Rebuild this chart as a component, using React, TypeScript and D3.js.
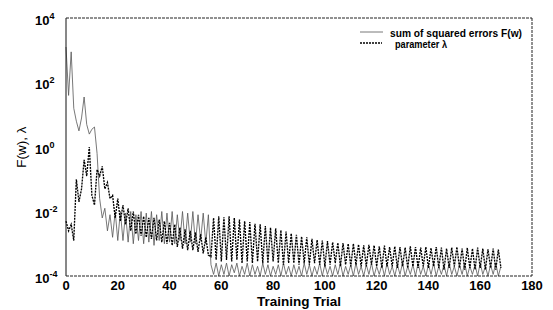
import React from "react";
import * as d3 from "d3";

// Values are read as log10 of the plotted quantity, trial 0..168
const errorLog10 = [
  3.1, 1.6, 2.95, 1.2, 0.8, 0.5, 0.9, 1.55, 0.7, 0.4,
  0.55, 0.62, -0.2, -1.6, -2.2, -1.9, -2.6, -2.1, -2.8, -2.0,
  -2.9, -2.0, -2.9, -2.05, -2.95, -2.0, -3.0, -2.1, -2.9, -2.0,
  -3.0, -2.05, -2.95, -2.0, -3.05, -2.1, -2.9, -2.0, -3.0, -2.05,
  -2.95, -2.0, -3.0, -2.1, -2.9, -2.0, -3.0, -2.05, -2.95, -2.0,
  -3.0, -2.1, -2.9, -2.05, -3.0, -2.1, -3.65, -3.95, -3.6, -4.0,
  -3.65, -3.95, -3.6, -4.0, -3.65, -3.9, -3.6, -4.0, -3.7, -3.95,
  -3.6, -4.0, -3.65, -3.95, -3.7, -4.0, -3.6, -3.95, -3.65, -4.0,
  -3.7, -3.95, -3.65, -4.0, -3.6, -3.95, -3.7, -4.0, -3.65, -3.95,
  -3.7, -4.0, -3.6, -3.95, -3.65, -4.0, -3.7, -3.95, -3.6, -4.0,
  -3.65, -3.95, -3.7, -4.0, -3.65, -3.95, -3.6, -4.0, -3.7, -3.95,
  -3.65, -4.0, -3.6, -3.95, -3.7, -4.0, -3.65, -3.95, -3.6, -4.0,
  -3.7, -3.95, -3.65, -4.0, -3.6, -3.95, -3.7, -4.0, -3.65, -3.95,
  -3.6, -4.0, -3.7, -3.95, -3.65, -4.0, -3.6, -3.95, -3.7, -4.0,
  -3.65, -3.95, -3.6, -4.0, -3.7, -3.95, -3.65, -4.0, -3.6, -3.95,
  -3.7, -4.0, -3.65, -3.95, -3.6, -4.0, -3.7, -3.95, -3.65, -4.0,
  -3.6, -3.95, -3.7, -4.0, -3.65, -3.95, -3.6, -4.0, -3.7,
];

const lambdaLog10 = [
  -2.3, -2.6, -2.4, -2.9, -1.0, -1.7, -1.3, -0.4, -0.9, 0.0,
  -1.5, -1.8, -0.7, -0.9, -0.6, -1.3, -1.1, -1.6, -1.5, -2.2,
  -1.6, -2.3, -1.8, -2.4, -1.9, -2.6, -2.0, -2.7, -2.1, -2.75,
  -2.15, -2.8, -2.2, -2.85, -2.2, -2.9, -2.25, -2.95, -2.3, -3.0,
  -2.35, -3.05, -2.4, -3.1, -2.5, -3.15, -2.55, -3.2, -2.6, -3.2,
  -2.65, -3.25, -2.7, -3.3, -2.8, -3.35, -3.4, -2.2, -3.5, -2.15,
  -3.55, -2.18, -3.5, -2.15, -3.55, -2.2, -3.5, -2.25, -3.6, -2.3,
  -3.55, -2.33, -3.6, -2.38, -3.55, -2.4, -3.6, -2.45, -3.6, -2.5,
  -3.55, -2.52, -3.6, -2.58, -3.65, -2.62, -3.6, -2.68, -3.6, -2.72,
  -3.65, -2.78, -3.6, -2.8, -3.65, -2.85, -3.6, -2.88, -3.65, -2.9,
  -3.7, -2.92, -3.65, -2.95, -3.6, -2.97, -3.7, -2.98, -3.65, -3.0,
  -3.7, -3.0, -3.65, -3.02, -3.7, -3.05, -3.7, -3.03, -3.65, -3.05,
  -3.7, -3.08, -3.75, -3.06, -3.7, -3.1, -3.7, -3.08, -3.75, -3.1,
  -3.7, -3.12, -3.75, -3.08, -3.7, -3.1, -3.75, -3.12, -3.7, -3.1,
  -3.75, -3.13, -3.7, -3.1, -3.75, -3.12, -3.8, -3.15, -3.75, -3.12,
  -3.7, -3.1, -3.75, -3.15, -3.8, -3.13, -3.75, -3.15, -3.8, -3.12,
  -3.75, -3.15, -3.8, -3.17, -3.75, -3.15, -3.8, -3.18, -3.75,
];

const xTicks = [0, 20, 40, 60, 80, 100, 120, 140, 160, 180];
const yTickExponents = [4, 2, 0, -2, -4];
const legendLabels = ["sum of squared errors F(w)", "parameter \u03bb"];

const W = 553;
const H = 310;
const x0 = 66, x1 = 532, yTop = 18, yBot = 276;

export default function App() {
  const x = d3.scaleLinear().domain([0, 180]).range([x0, x1]);
  const y = d3.scaleLog().domain([1e-4, 1e4]).range([yBot, yTop]);
  const line = d3
    .line<number>()
    .x((_, i) => x(i))
    .y((v) => y(Math.pow(10, v)));

  const font = "'Liberation Sans', Arial, sans-serif";

  return (
    <svg
      width={W}
      height={H}
      style={{ position: "absolute", left: 0, top: 0, background: "#fff" }}
      fontFamily={font}
    >
      <rect x={0} y={0} width={W} height={H} fill="#fff" />
      {/* data */}
      <path d={line(errorLog10) || ""} fill="none" stroke="#555" strokeWidth={0.8} />
      <path
        d={line(lambdaLog10) || ""}
        fill="none"
        stroke="#000"
        strokeWidth={1.35}
        strokeDasharray="2 1"
      />
      {/* frame */}
      <line x1={x0} x2={x0} y1={yTop} y2={yBot} stroke="#111" strokeWidth={1} />
      <line x1={x0} x2={x1} y1={yBot} y2={yBot} stroke="#222" strokeWidth={1} strokeDasharray="3 1" />
      <line x1={x0} x2={x1} y1={yTop} y2={yTop} stroke="#222" strokeWidth={1} strokeDasharray="3 1" />
      <line x1={x1} x2={x1} y1={yTop} y2={yBot} stroke="#222" strokeWidth={1} strokeDasharray="3 1" />

      {/* x tick labels */}
      {xTicks.map((t) => (
        <text
          key={t}
          x={x(t)}
          y={290}
          textAnchor="middle"
          fontSize={13}
          fontWeight="bold"
          fill="#000"
        >
          {t}
        </text>
      ))}
      {/* y tick labels */}
      {yTickExponents.map((e) => (
        <text key={e} x={35} y={y(Math.pow(10, e)) + 6.5} fontSize={13} fontWeight="bold" fill="#000">
          10
          <tspan dy={-6} fontSize={9}>
            {e}
          </tspan>
        </text>
      ))}

      <text x={299} y={306} textAnchor="middle" fontSize={13.5} fontWeight="bold" fill="#000">
        Training Trial
      </text>
      <text
        transform="translate(26,147) rotate(-90)"
        textAnchor="middle"
        fontSize={13.5}
        fill="#000"
      >
        F(w), λ
      </text>

      {/* legend */}
      <line x1={360} x2={383} y1={32} y2={32} stroke="#555" strokeWidth={0.8} />
      <text x={390} y={37} fontSize={11.5} fontWeight="bold" textLength={132} lengthAdjust="spacingAndGlyphs" fill="#000">
        {legendLabels[0]}
      </text>
      <line x1={360} x2={382} y1={43} y2={43} stroke="#000" strokeWidth={1.35} strokeDasharray="2 1" />
      <text x={395} y={48} fontSize={11.5} fontWeight="bold" textLength={52} lengthAdjust="spacingAndGlyphs" fill="#000">
        {legendLabels[1]}
      </text>
    </svg>
  );
}
